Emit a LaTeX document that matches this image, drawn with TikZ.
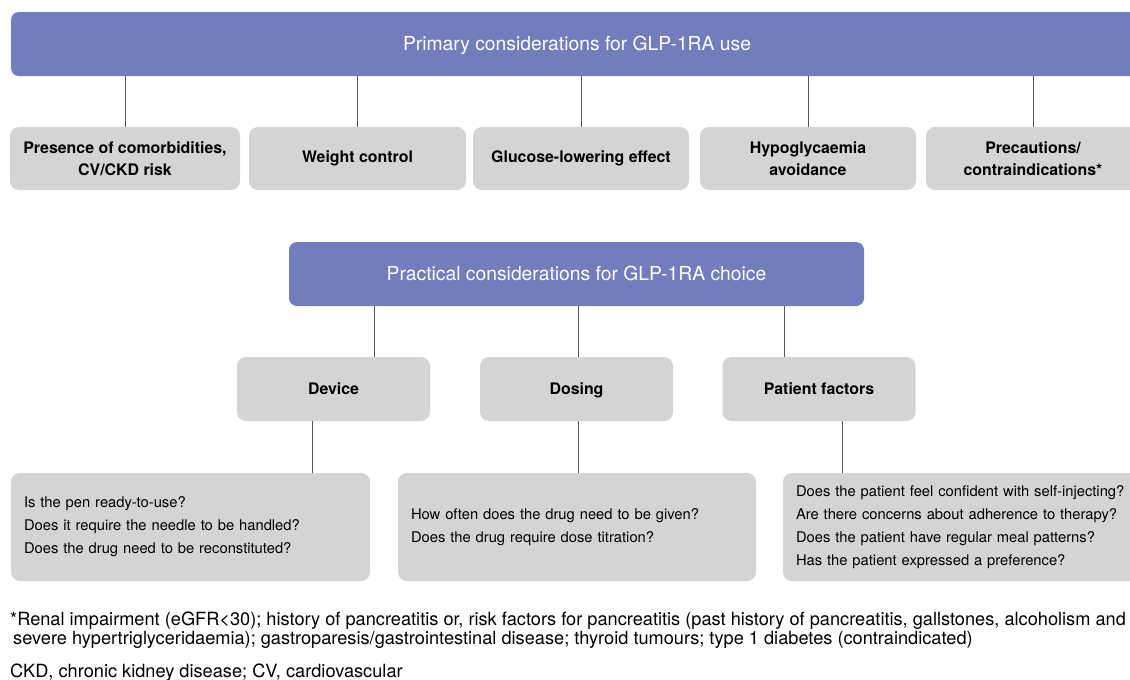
\documentclass[tikz,border=0pt]{standalone}
\usepackage{fontspec}
\setmainfont{TeX Gyre Heros}
\usetikzlibrary{positioning}
\definecolor{barblue}{RGB}{113,125,188}
\definecolor{boxgrey}{RGB}{212,212,212}
\definecolor{linegrey}{RGB}{85,85,85}

\begin{document}
\begin{tikzpicture}[x=1pt, y=-1pt,
  topbar/.style={fill=barblue, rounded corners=8pt, text=white, inner sep=0pt, minimum height=64pt, text height=13.9pt, text depth=0pt, font=\fontsize{19.3}{22}\selectfont},
  pbox/.style={fill=boxgrey, rounded corners=9pt, align=center, inner sep=0pt, minimum height=63pt, font=\fontsize{15.9}{22}\selectfont\bfseries},
  qbox/.style={fill=boxgrey, rounded corners=9pt, align=left, inner xsep=13pt, inner ysep=0pt, minimum height=108pt, font=\fontsize{14.75}{23}\selectfont},
  link/.style={draw=linegrey, line width=0.8pt},
  note/.style={inner sep=0pt, align=left, font=\fontsize{18.2}{18.5}\selectfont}
]
  \useasboundingbox (0,0) rectangle (1130,680);
  \clip (0,0) rectangle (1130,680);

  % primary considerations
  \node[topbar, minimum width=1132pt] (primary) at (577,44) {Primary considerations for GLP-1RA use};
  \node[pbox, minimum width=230pt] (comorb) at (125,158.5) {Presence of comorbidities,\\CV/CKD risk};
  \node[pbox, minimum width=217pt] (weight) at (357.5,158.5) {Weight control};
  \node[pbox, minimum width=216pt] (glucose) at (581,158.5) {Glucose-lowering effect};
  \node[pbox, minimum width=216pt] (hypo) at (808,158.5) {Hypoglycaemia\\avoidance};
  \node[pbox, minimum width=214pt] (precaut) at (1033,158.5) {Precautions/\\contraindications*};
  \foreach \n in {comorb,weight,glucose,hypo,precaut}
    \draw[link] (primary.south -| \n.north) -- (\n.north);

  % practical considerations
  \node[topbar, minimum width=575pt] (practical) at (576.5,274) {Practical considerations for GLP-1RA choice};
  \node[pbox, minimum width=193pt, minimum height=64pt, text height=11.5pt, text depth=0pt] (device) at (333.5,389) {Device};
  \node[pbox, minimum width=193pt, minimum height=64pt, text height=11.5pt, text depth=0pt] (dosing) at (576.5,389) {Dosing};
  \node[pbox, minimum width=193pt, minimum height=64pt, text height=11.5pt, text depth=0pt] (patient) at (819,389) {Patient factors};
  \draw[link] ([xshift=40.5pt]device.north) -- ([xshift=40.5pt]device.north |- practical.south);
  \draw[link] ([xshift=1.5pt]dosing.north) -- ([xshift=1.5pt]dosing.north |- practical.south);
  \draw[link] ([xshift=-35pt]patient.north) -- ([xshift=-35pt]patient.north |- practical.south);

  % questions
  \node[qbox, text width=333pt] (devq) at (190.5,527) {Is the pen ready-to-use?\\Does it require the needle to be handled?\\Does the drug need to be reconstituted?};
  \node[qbox, text width=332pt] (doseq) at (577,527) {How often does the drug need to be given?\\Does the drug require dose titration?};
  \node[qbox, text width=332pt] (patq) at (962,527) {Does the patient feel confident with self-injecting?\\Are there concerns about adherence to therapy?\\Does the patient have regular meal patterns?\\Has the patient expressed a preference?};
  \draw[link] ([xshift=-21.5pt]device.south) -- ([xshift=-21.5pt]device.south |- devq.north);
  \draw[link] ([xshift=1.5pt]dosing.south) -- ([xshift=1.5pt]dosing.south |- doseq.north);
  \draw[link] ([xshift=23pt]patient.south) -- ([xshift=23pt]patient.south |- patq.north);

  % footnotes
  \node[note, anchor=base west] (remark) at (10,644)
    {*Renal impairment (eGFR<30); history of pancreatitis or, risk factors for pancreatitis (past history of pancreatitis, gallstones, alcoholism and\\
     \hspace{3pt}severe hypertriglyceridaemia); gastroparesis/gastrointestinal disease; thyroid tumours; type 1 diabetes (contraindicated)};
  \node[note, anchor=base west] (abbrev) at (10,677) {CKD, chronic kidney disease; CV, cardiovascular};
\end{tikzpicture}
\end{document}
